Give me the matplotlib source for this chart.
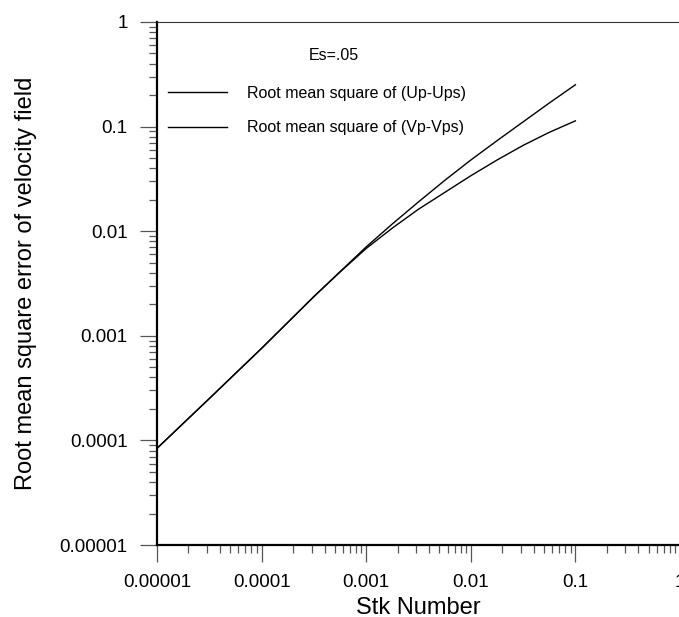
import matplotlib
matplotlib.use("Agg")
import matplotlib.pyplot as plt
from matplotlib.ticker import LogLocator, FixedFormatter, FixedLocator, NullFormatter

plt.rcParams['font.family'] = ['Liberation Sans', 'DejaVu Sans']

# Data
stk = [1e-5, 3.16e-5, 1e-4, 3.16e-4, 5.62e-4, 1e-3, 1.78e-3, 3.16e-3, 5.62e-3,
       1e-2, 1.78e-2, 3.16e-2, 5.62e-2, 1e-1]
rms_u = [8.39e-5, 2.51e-4, 7.59e-4, 2.37e-3, 4.10e-3, 7.08e-3, 1.175e-2, 1.905e-2, 3.055e-2,
         4.79e-2, 7.33e-2, 1.109e-1, 1.679e-1, 2.512e-1]
rms_v = [8.39e-5, 2.51e-4, 7.59e-4, 2.37e-3, 4.07e-3, 6.84e-3, 1.072e-2, 1.622e-2, 2.344e-2,
         3.39e-2, 4.79e-2, 6.61e-2, 8.81e-2, 1.135e-1]
label_u = "Root mean square of (Up-Ups)"
label_v = "Root mean square of (Vp-Vps)"
annotation = "Es=.05"
x_ticks = [1e-5, 1e-4, 1e-3, 1e-2, 1e-1, 1]
x_tick_labels = ["0.00001", "0.0001", "0.001", "0.01", "0.1", "1"]
y_ticks = [1e-5, 1e-4, 1e-3, 1e-2, 1e-1, 1]
y_tick_labels = ["0.00001", "0.0001", "0.001", "0.01", "0.1", "1"]
x_label = "Stk Number"
y_label = "Root mean square error of velocity field"

W, H = 679, 617
fig = plt.figure(figsize=(W / 100, H / 100), dpi=100)
L, R, T, B = 157, 680, 22, 545
ax = fig.add_axes([L / W, (H - B) / H, (R - L) / W, (B - T) / H])

ax.plot(stk, rms_u, color='black', lw=1.0, label=label_u)
ax.plot(stk, rms_v, color='black', lw=1.0, label=label_v)

ax.set_xscale('log')
ax.set_yscale('log')
ax.set_xlim(1e-5, 1)
ax.set_ylim(1e-5, 1)

ax.xaxis.set_major_locator(FixedLocator(x_ticks))
ax.xaxis.set_major_formatter(FixedFormatter(x_tick_labels))
ax.yaxis.set_major_locator(FixedLocator(y_ticks))
ax.yaxis.set_major_formatter(FixedFormatter(y_tick_labels))
ax.xaxis.set_minor_locator(LogLocator(base=10, subs=range(2, 10), numticks=20))
ax.yaxis.set_minor_locator(LogLocator(base=10, subs=range(2, 10), numticks=20))
ax.xaxis.set_minor_formatter(NullFormatter())
ax.yaxis.set_minor_formatter(NullFormatter())

ax.tick_params(which='major', direction='out', length=12.5, width=0.9, color='#555555',
               labelsize=13.5, pad=8.5, labelcolor='black')
ax.tick_params(which='minor', direction='out', length=6, width=0.9, color='#555555')
ax.tick_params(top=False, right=False)

for s in ['left', 'bottom']:
    ax.spines[s].set_linewidth(1.6)
    ax.spines[s].set_color('black')
ax.spines['top'].set_linewidth(0.8)
ax.spines['top'].set_color('#333333')
ax.spines['right'].set_visible(False)

ax.set_xlabel(x_label, fontsize=17)
ax.set_ylabel(y_label, fontsize=17)
ax.xaxis.set_label_coords(0.5, (B - 597) / (B - T))
ax.yaxis.set_label_coords((37 - L) / (R - L), 0.5)

leg = ax.legend(loc='upper left', bbox_to_anchor=((168 - L) / (R - L), (B - 86) / (B - T)),
                frameon=False, fontsize=11.5, handlelength=3.7, handletextpad=1.25,
                labelspacing=1.22, borderpad=0, borderaxespad=0)
ax.text((334 - L) / (R - L), (B - 55) / (B - T), annotation, transform=ax.transAxes,
        ha='center', va='center', fontsize=11.5)

fig.savefig('out.png', dpi=100)
